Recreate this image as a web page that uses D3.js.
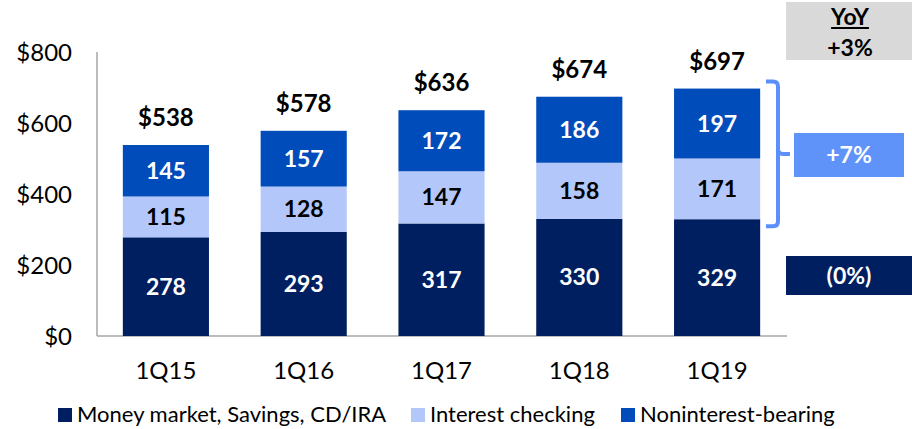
<!DOCTYPE html>
<html><head><meta charset="utf-8">
<script src="https://cdn.jsdelivr.net/npm/d3@7"></script>
<style>
html,body{margin:0;padding:0;background:#fff;}
svg{display:block;font-family:Lato,"Open Sans",sans-serif;}
</style></head>
<body><svg id="c" width="912" height="429"></svg>
<script>
const categories = ["1Q15","1Q16","1Q17","1Q18","1Q19"];
const moneyMarket = [278,293,317,330,329];
const interestChecking = [115,128,147,158,171];
const nonInterest = [145,157,172,186,197];
const totals = [538,578,636,674,697];
const yTicks = [0,200,400,600,800];
const seriesNames = ["Money market, Savings, CD/IRA","Interest checking","Noninterest-bearing"];
const seriesColors = ["#001f60","#b4c7fa","#004cba"];
const labelColors = ["#fff","#000","#fff"];
const yoyTitle = "YoY", yoyTotal = "+3%", yoyBracket = "+7%", yoyMoney = "(0%)";

const svg = d3.select("#c");
const x = d3.scaleBand().domain(categories).range([97,786]).paddingInner(0.375).paddingOuter(0.1875);
const y = d3.scaleLinear().domain([0,800]).range([336,52]);

const rows = categories.map((c,i)=>({cat:c, s0:moneyMarket[i], s1:interestChecking[i], s2:nonInterest[i], total:totals[i]}));
const stack = d3.stack().keys(["s0","s1","s2"])(rows);

// axes lines
svg.append("line").attr("x1",97).attr("x2",97).attr("y1",y(800)).attr("y2",y(0)).attr("stroke","#a6a6a6").attr("stroke-width",1.5);
svg.append("line").attr("x1",97).attr("x2",787).attr("y1",y(0)).attr("y2",y(0)).attr("stroke","#a6a6a6").attr("stroke-width",1.5);

// y tick labels
svg.append("g").selectAll("text").data(yTicks).join("text")
  .attr("x",72).attr("y",d=>y(d)+9).attr("text-anchor","end")
  .attr("font-size",24).attr("fill","#000").text(d=>"$"+d);

// x labels
svg.append("g").selectAll("text").data(categories).join("text")
  .attr("x",d=>x(d)+x.bandwidth()/2).attr("y",379).attr("text-anchor","middle")
  .attr("font-size",24).attr("fill","#000").text(d=>d);

// bars
const g = svg.append("g");
stack.forEach((layer,li)=>{
  g.append("g").selectAll("rect").data(layer).join("rect")
    .attr("x",d=>x(d.data.cat)).attr("width",x.bandwidth())
    .attr("y",d=>y(d[1])).attr("height",d=>y(d[0])-y(d[1]))
    .attr("fill",seriesColors[li]);
  g.append("g").selectAll("text").data(layer).join("text")
    .attr("x",d=>x(d.data.cat)+x.bandwidth()/2)
    .attr("y",d=>(y(d[0])+y(d[1]))/2+8)
    .attr("text-anchor","middle").attr("font-size",23).attr("font-weight","bold")
    .attr("fill",labelColors[li]).text(d=>d[1]-d[0]);
});
// totals
svg.append("g").selectAll("text").data(rows).join("text")
  .attr("x",d=>x(d.cat)+x.bandwidth()/2).attr("y",d=>y(d.total)-19)
  .attr("text-anchor","middle").attr("font-size",24).attr("font-weight","bold")
  .attr("fill","#000").text(d=>"$"+d.total);

// YoY box
svg.append("rect").attr("x",786).attr("y",2).attr("width",126).attr("height",58).attr("fill","#d9d9d9");
const yt = svg.append("text").attr("x",850).attr("y",25).attr("text-anchor","middle")
  .attr("font-size",23).attr("font-weight","bold").attr("fill","#000").text(yoyTitle);
const yw = yt.node().getComputedTextLength();
svg.append("line").attr("x1",850-yw/2).attr("x2",850+yw/2).attr("y1",28).attr("y2",28).attr("stroke","#000").attr("stroke-width",1.8);
svg.append("text").attr("x",850).attr("y",56).attr("text-anchor","middle")
  .attr("font-size",23).attr("font-weight","bold").attr("fill","#000").text(yoyTotal);

// bracket
const last = rows[rows.length-1];
const bTop = y(last.total)-7, bBot = y(last.s0)+7, bx0 = 766, bx1 = 778, r = 5;
const bMid = (bTop+bBot)/2;
svg.append("path").attr("fill","none").attr("stroke","#5b8ff9").attr("stroke-width",4)
  .attr("d",`M${bx0},${bTop} H${bx1-r} Q${bx1},${bTop} ${bx1},${bTop+r} V${bBot-r} Q${bx1},${bBot} ${bx1-r},${bBot} H${bx0}`);
svg.append("path").attr("fill","none").attr("stroke","#5b8ff9").attr("stroke-width",4)
  .attr("d",`M${bx1},${bMid-5} Q${bx1},${bMid} ${bx1+5},${bMid} H${790}`);

svg.append("rect").attr("x",794).attr("y",133).attr("width",110).attr("height",44).attr("fill","#5f93fa");
svg.append("text").attr("x",849).attr("y",163).attr("text-anchor","middle")
  .attr("font-size",23).attr("font-weight","bold").attr("fill","#fff").text(yoyBracket);

svg.append("rect").attr("x",786).attr("y",256).attr("width",126).attr("height",39).attr("fill","#001f60");
svg.append("text").attr("x",849).attr("y",284).attr("text-anchor","middle")
  .attr("font-size",23).attr("font-weight","bold").attr("fill","#fff").text(yoyMoney);

// legend
const legX = [58,411,621];
const lg = svg.append("g");
seriesNames.forEach((n,i)=>{
  lg.append("rect").attr("x",legX[i]).attr("y",408).attr("width",14).attr("height",14).attr("fill",seriesColors[i]);
  lg.append("text").attr("x",legX[i]+19).attr("y",422).attr("font-size",22).attr("fill","#000").text(n);
});
</script></body></html>
